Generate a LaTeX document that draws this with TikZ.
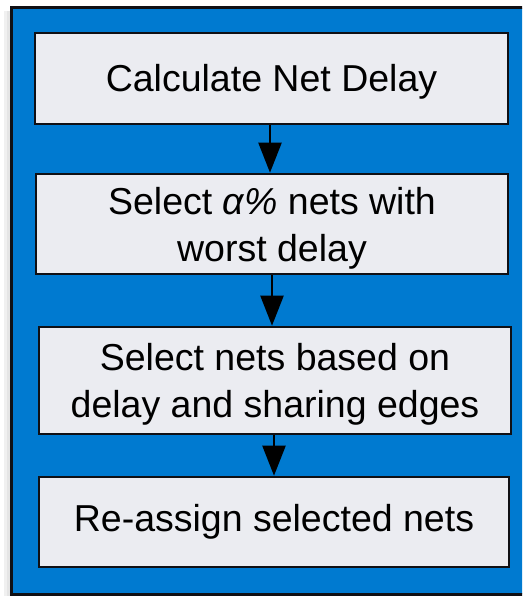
\documentclass[tikz,border=0pt]{standalone}
\usepackage{fontspec}
\setmainfont{Liberation Sans}
\usetikzlibrary{arrows.meta}
\definecolor{panelblue}{RGB}{0,122,208}
\definecolor{boxfill}{RGB}{235,236,241}
\definecolor{edge}{RGB}{16,16,20}
\tikzset{
  stepbox/.style={draw=edge, line width=2.6pt, fill=boxfill, inner sep=0pt,
    align=center, font=\fontsize{37.5}{47}\selectfont},
  flow/.style={draw=black, line width=2.2pt,
    -{Triangle[length=30pt,width=23pt]}},
}
\begin{document}
\begin{tikzpicture}[x=1pt,y=-1pt]
  \useasboundingbox (0,0) rectangle (522,596);
  \begin{scope}
    \clip (0,0) rectangle (522,596);
    % soft shadow on the left of the panel
    \fill[black!6] (4,11) rectangle (12,598);
    \fill[black!10] (7,11) rectangle (12,598);
    % blue panel
    \draw[draw=edge, line width=3pt, fill=panelblue] (11,8) rectangle (526,594);
  \end{scope}
  % process steps
  \node[stepbox, text depth=2pt, minimum width=473pt, minimum height=91pt] (b1) at (271.5,78.5)
    {Calculate Net Delay};
  \node[stepbox, text depth=0pt, minimum width=472pt, minimum height=100pt] (b2) at (272,224)
    {Select \textit{α\%} nets with\\worst delay};
  \node[stepbox, text depth=0pt, minimum width=472pt, minimum height=107pt] (b3) at (275,380.5)
    {Select nets based on\\delay and sharing edges};
  \node[stepbox, minimum width=470pt, minimum height=90pt] (b4) at (274,522)
    {Re-assign selected nets};
  % connectors
  \draw[flow] ([xshift=-1.5pt]b1.south) -- ([xshift=-1.5pt]b1.south |- b2.north);
  \draw[flow] (b2.south) -- (b2.south |- b3.north);
  \draw[flow] ([xshift=-1pt]b3.south) -- ([xshift=-1pt]b3.south |- b4.north);
\end{tikzpicture}
\end{document}
